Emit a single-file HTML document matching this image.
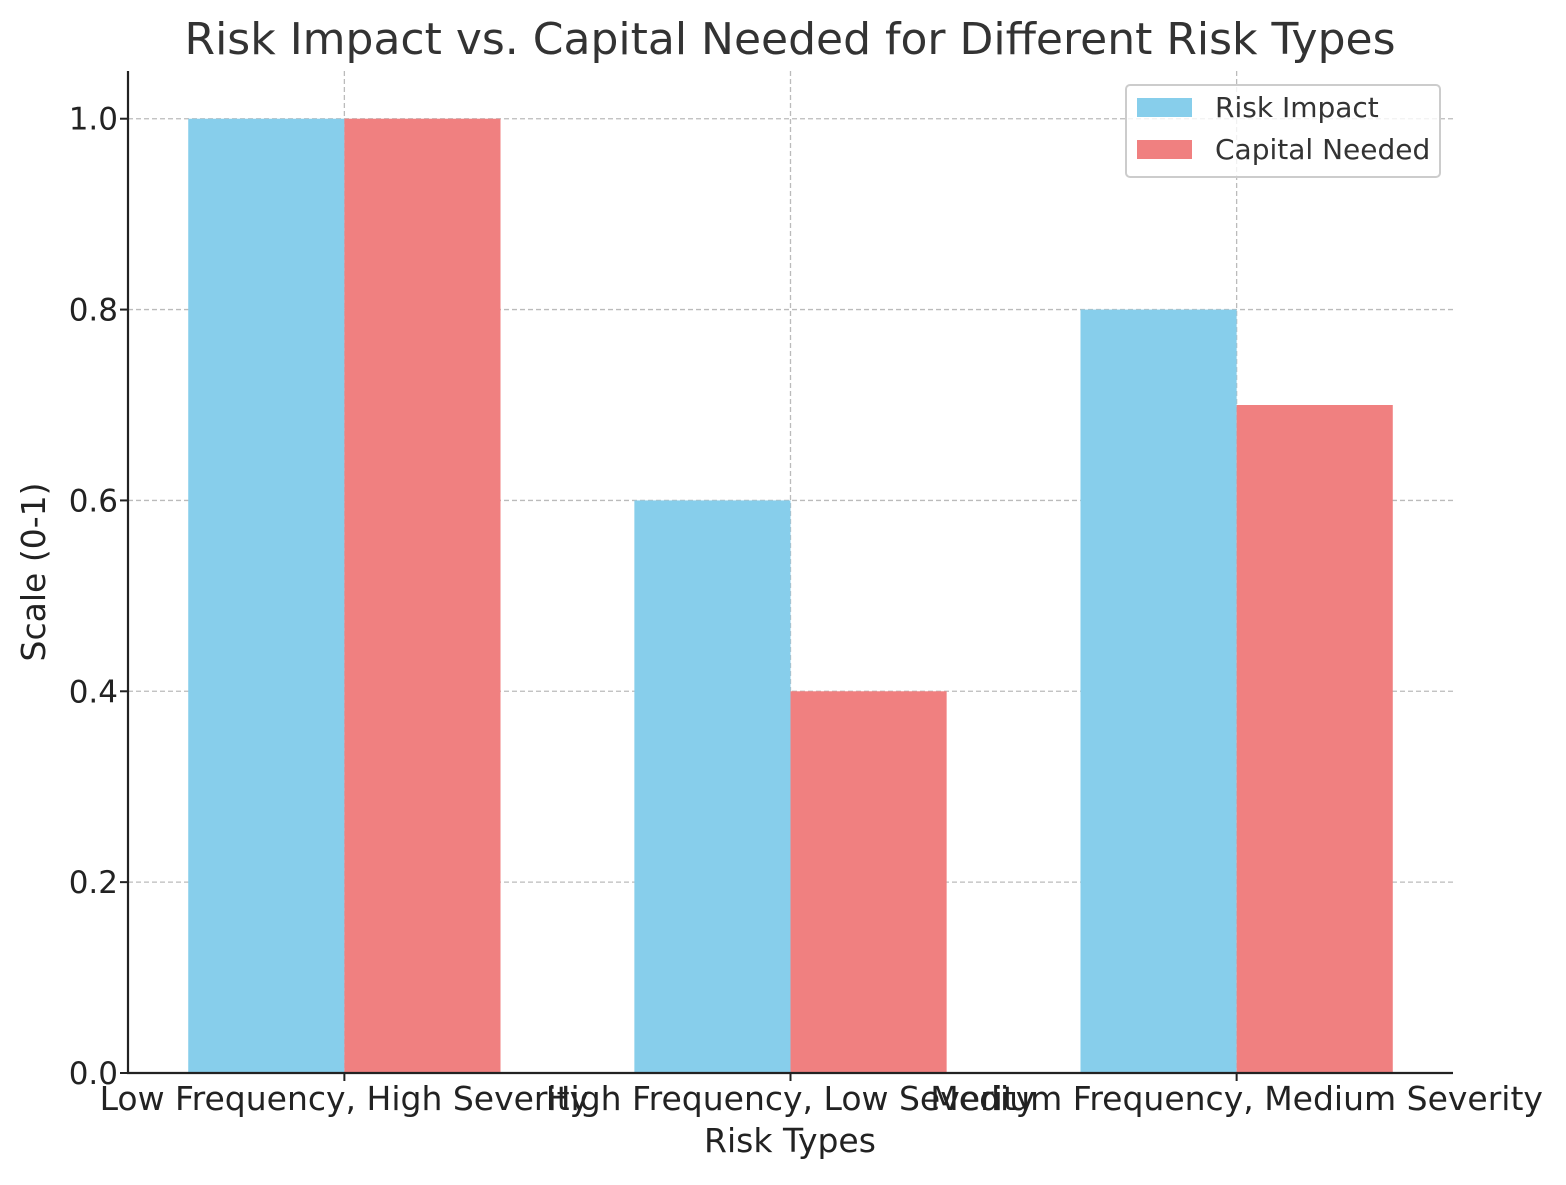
<!DOCTYPE html>
<html><head><meta charset="utf-8"><style>
body{margin:0;background:#fff}
svg text{font-family:"DejaVu Sans","Liberation Sans",sans-serif}
</style></head><body>
<svg id="chart" width="1566" height="1180" xmlns="http://www.w3.org/2000/svg">
<text x="790" y="54" font-size="44" fill="#333" text-anchor="middle">Risk Impact vs. Capital Needed for Different Risk Types</text>
<g id="grid"></g><g id="bars"></g><g id="axes"></g>
<text x="790" y="1152" font-size="33" fill="#222" text-anchor="middle">Risk Types</text>
<text transform="translate(45,572) rotate(-90)" font-size="33" fill="#222" text-anchor="middle">Scale (0-1)</text>
<g>
<rect x="1126" y="85" width="314" height="92" rx="4" fill="#fff" fill-opacity="0.8" stroke="#ccc" stroke-width="2"/>
<rect x="1137" y="98" width="55" height="19" fill="#87CEEB"/>
<text x="1215" y="117" font-size="28" fill="#333">Risk Impact</text>
<rect x="1137" y="140" width="55" height="19" fill="#F08080"/>
<text x="1215" y="159" font-size="28" fill="#333">Capital Needed</text>
</g>
</svg>
<script>
const categories=["Low Frequency, High Severity","High Frequency, Low Severity","Medium Frequency, Medium Severity"];
const riskImpact=[1.0,0.6,0.8];
const capitalNeeded=[1.0,0.4,0.7];
const yTicks=[0,0.2,0.4,0.6,0.8,1.0];
const yTickLabels=["0.0","0.2","0.4","0.6","0.8","1.0"];
const NS="http://www.w3.org/2000/svg";
const L=128,R=1453,T=71,B=1073;
const n=categories.length;
const xmin=-0.485,xmax=n-1+0.485;
const xs=v=>L+(v-xmin)/(xmax-xmin)*(R-L);
const ys=v=>B-v/1.05*(B-T);
function mk(tag,attrs,parent){const e=document.createElementNS(NS,tag);for(const k in attrs)e.setAttribute(k,attrs[k]);parent.appendChild(e);return e;}
const grid=document.getElementById('grid'),bars=document.getElementById('bars'),axes=document.getElementById('axes');
yTicks.forEach((t,i)=>{
 const y=ys(t);
 const g=mk('line',{x1:L,x2:R,y1:y,y2:y,stroke:'#bbb','stroke-width':1.3,'stroke-dasharray':'5,3'},grid);
 
 
 mk('line',{x1:L-8,x2:L,y1:y,y2:y,stroke:'#222','stroke-width':2},axes);
 const tx=mk('text',{x:L-10,y:y+11,'font-size':31,fill:'#222','text-anchor':'end'},axes);
 tx.textContent=yTickLabels[i];
 
 
});
const bw=0.35;
categories.forEach((c,i)=>{
 const cx=xs(i);
 const g=mk('line',{x1:cx,x2:cx,y1:T,y2:B,stroke:'#bbb','stroke-width':1.3,'stroke-dasharray':'5,3'},grid);
 
 
 const b1=mk('rect',{x:xs(i-bw),y:ys(riskImpact[i]),width:xs(i)-xs(i-bw),height:B-ys(riskImpact[i]),fill:'#87CEEB'},bars);
 
 
 const b2=mk('rect',{x:xs(i),y:ys(capitalNeeded[i]),width:xs(i+bw)-xs(i),height:B-ys(capitalNeeded[i]),fill:'#F08080'},bars);
 
 
 mk('line',{x1:cx,x2:cx,y1:B,y2:B+8,stroke:'#222','stroke-width':2},axes);
 const tx=mk('text',{x:cx,y:B+37,'font-size':33,fill:'#222','text-anchor':'middle'},axes);
 tx.textContent=c;
 
 
});
const sp1=mk('line',{x1:L,x2:L,y1:T,y2:B+1,stroke:'#222','stroke-width':2.2},axes);


const sp2=mk('line',{x1:L-1,x2:R,y1:B,y2:B,stroke:'#222','stroke-width':2.2},axes);


</script>
</body></html>
